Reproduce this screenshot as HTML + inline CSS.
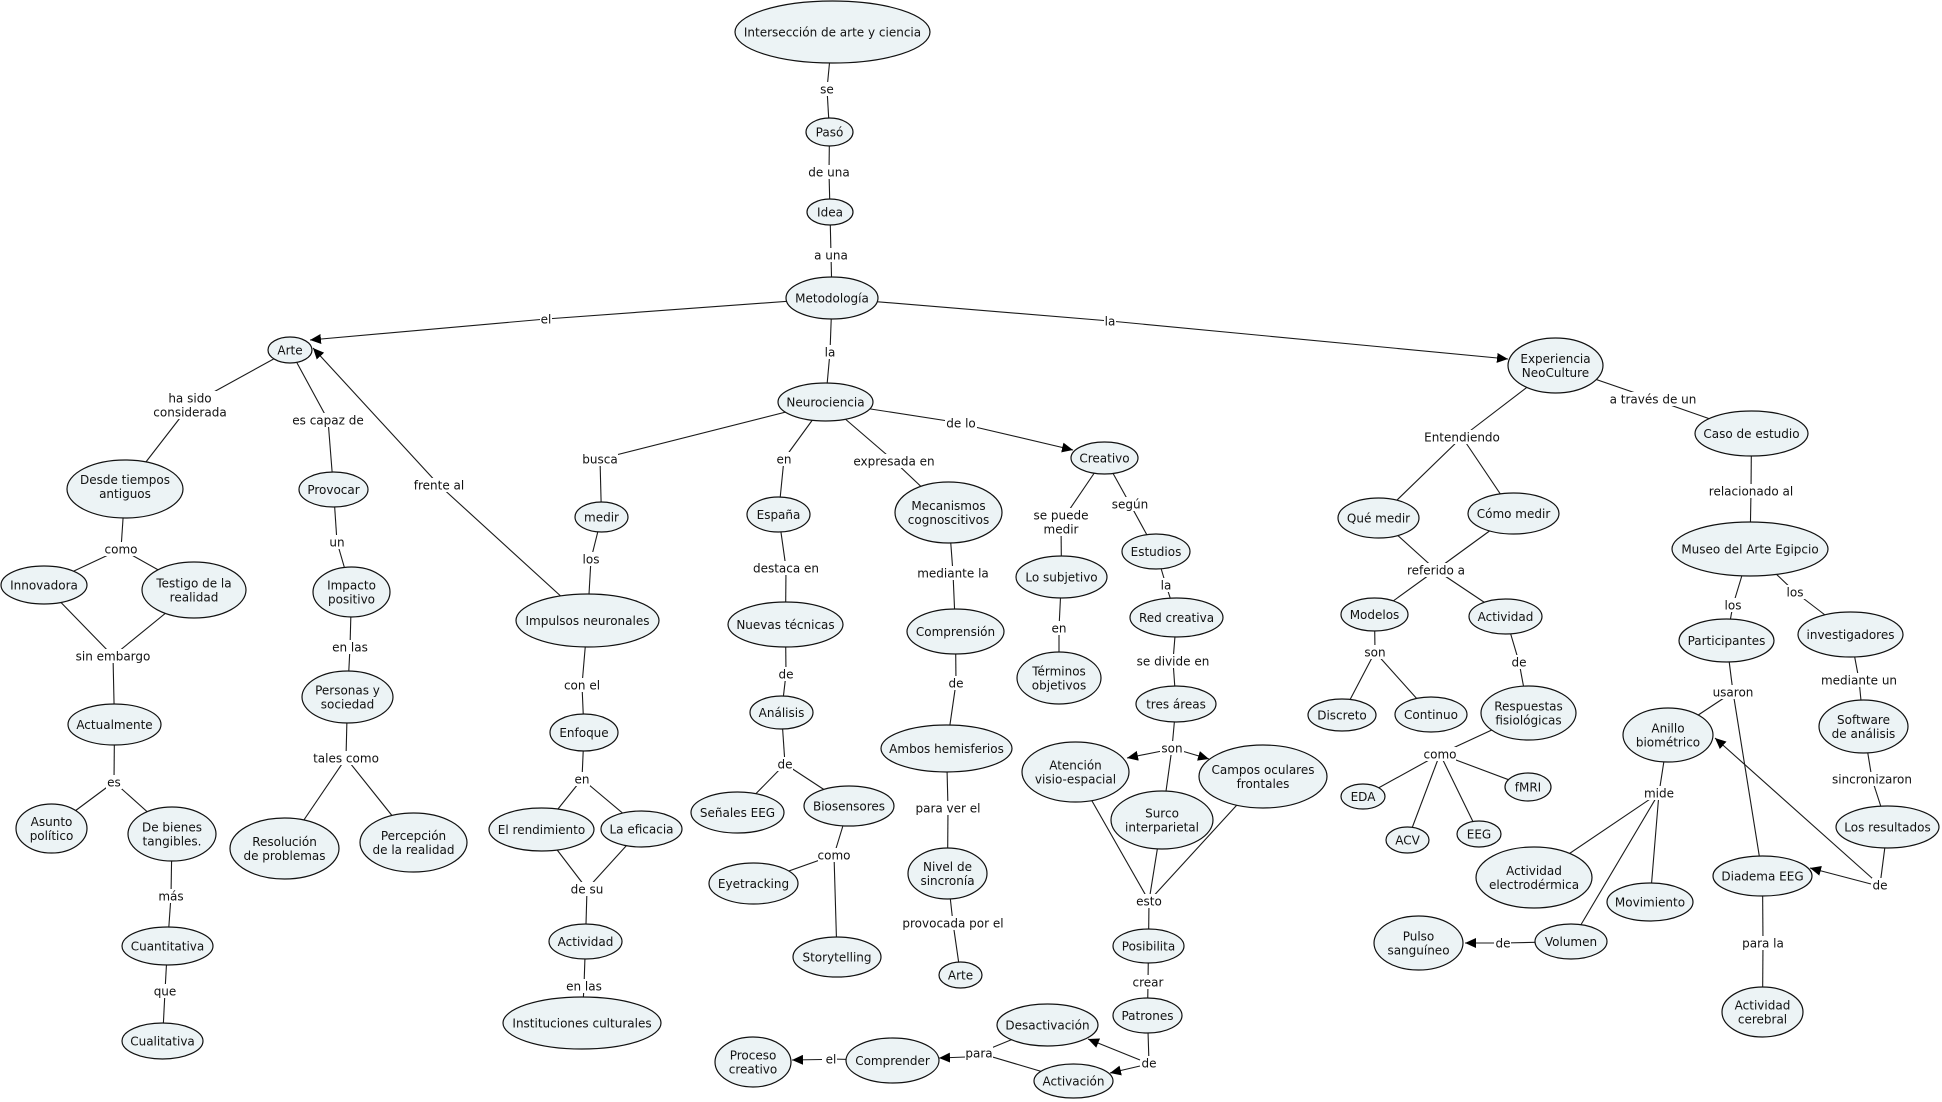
<!DOCTYPE html>
<html>
<head>
<meta charset="utf-8">
<style>
html,body{margin:0;padding:0;background:#fff;}
svg{display:block;}
text{font-family:"DejaVu Sans","Liberation Sans",sans-serif;font-size:12px;fill:#111;text-anchor:middle;}
.n{fill:#ecf3f5;stroke:#111;stroke-width:1.2;}
.l{stroke:#1a1a1a;stroke-width:1.1;fill:none;}
.b{fill:#fff;}
</style>
</head>
<body>
<svg width="1942" height="1102" viewBox="0 0 1942 1102" xmlns="http://www.w3.org/2000/svg">
<defs>
<marker id="a" markerWidth="12" markerHeight="10" refX="11" refY="5" orient="auto" markerUnits="userSpaceOnUse"><path d="M0,0 L11,5 L0,10 z" fill="#000"/></marker>
</defs>
<rect width="1942" height="1102" fill="#fff"/>

<!-- LINES -->
<g class="l">
<line x1="832.5" y1="31.5" x2="827" y2="89"/><line x1="827" y1="89" x2="829.5" y2="132"/>
<line x1="829.5" y1="132" x2="829" y2="172"/><line x1="829" y1="172" x2="830" y2="212"/>
<line x1="830" y1="212" x2="831" y2="255"/><line x1="831" y1="255" x2="832" y2="298"/>
<line x1="832" y1="298" x2="546" y2="319"/><line x1="546" y1="319" x2="310" y2="340" marker-end="url(#a)"/>
<line x1="832" y1="298" x2="830" y2="352"/><line x1="830" y1="352" x2="825.5" y2="402"/>
<line x1="832" y1="298" x2="1110" y2="321"/><line x1="1110" y1="321" x2="1508" y2="359" marker-end="url(#a)"/>
<line x1="290" y1="350" x2="190" y2="405"/><line x1="190" y1="405" x2="125" y2="489"/>
<line x1="290" y1="350" x2="328" y2="420"/><line x1="328" y1="420" x2="333.5" y2="489.5"/>
<line x1="587.5" y1="620.5" x2="439" y2="485"/><line x1="439" y1="485" x2="313" y2="348" marker-end="url(#a)"/>
<line x1="125" y1="489" x2="121" y2="549"/><line x1="121" y1="549" x2="44" y2="585"/><line x1="121" y1="549" x2="194" y2="590"/>
<line x1="44" y1="585" x2="113" y2="656"/><line x1="194" y1="590" x2="113" y2="656"/><line x1="113" y1="656" x2="114.5" y2="724.5"/>
<line x1="114.5" y1="724.5" x2="114" y2="782"/><line x1="114" y1="782" x2="51.5" y2="828.5"/><line x1="114" y1="782" x2="172" y2="834"/>
<line x1="172" y1="834" x2="171" y2="896"/><line x1="171" y1="896" x2="167.5" y2="946"/>
<line x1="167.5" y1="946" x2="165" y2="991"/><line x1="165" y1="991" x2="162.5" y2="1041"/>
<line x1="333.5" y1="489.5" x2="337" y2="542"/><line x1="337" y1="542" x2="351.5" y2="592"/>
<line x1="351.5" y1="592" x2="350" y2="647"/><line x1="350" y1="647" x2="347.5" y2="697"/>
<line x1="347.5" y1="697" x2="346" y2="758"/><line x1="346" y1="758" x2="284.5" y2="848.5"/><line x1="346" y1="758" x2="413.5" y2="842.5"/>
<line x1="825.5" y1="402" x2="600" y2="459"/><line x1="600" y1="459" x2="601.5" y2="517"/>
<line x1="601.5" y1="517" x2="591" y2="559"/><line x1="591" y1="559" x2="587.5" y2="620.5"/>
<line x1="587.5" y1="620.5" x2="582" y2="685"/><line x1="582" y1="685" x2="584" y2="732.5"/>
<line x1="584" y1="732.5" x2="582" y2="779"/><line x1="582" y1="779" x2="541.5" y2="829.5"/><line x1="582" y1="779" x2="641.5" y2="829"/>
<line x1="541.5" y1="829.5" x2="587" y2="889"/><line x1="641.5" y1="829" x2="587" y2="889"/><line x1="587" y1="889" x2="585.5" y2="941.5"/>
<line x1="585.5" y1="941.5" x2="584" y2="986"/><line x1="584" y1="986" x2="582" y2="1023"/>
<line x1="825.5" y1="402" x2="784" y2="459"/><line x1="784" y1="459" x2="778.5" y2="514.5"/>
<line x1="778.5" y1="514.5" x2="786" y2="568"/><line x1="786" y1="568" x2="785.5" y2="624.5"/>
<line x1="785.5" y1="624.5" x2="786" y2="674"/><line x1="786" y1="674" x2="781.5" y2="712.5"/>
<line x1="781.5" y1="712.5" x2="785" y2="764"/><line x1="785" y1="764" x2="737.5" y2="812.5"/><line x1="785" y1="764" x2="849" y2="806"/>
<line x1="849" y1="806" x2="834" y2="855"/><line x1="834" y1="855" x2="753.5" y2="883.5"/><line x1="834" y1="855" x2="837" y2="957"/>
<line x1="825.5" y1="402" x2="894" y2="461"/><line x1="894" y1="461" x2="948.5" y2="512.5"/>
<line x1="948.5" y1="512.5" x2="953" y2="573"/><line x1="953" y1="573" x2="955.5" y2="631.5"/>
<line x1="955.5" y1="631.5" x2="956" y2="683"/><line x1="956" y1="683" x2="946.5" y2="748.5"/>
<line x1="946.5" y1="748.5" x2="948" y2="808"/><line x1="948" y1="808" x2="947.5" y2="873.5"/>
<line x1="947.5" y1="873.5" x2="953" y2="923"/><line x1="953" y1="923" x2="960.5" y2="975"/>
<line x1="825.5" y1="402" x2="961" y2="423"/><line x1="975" y1="427" x2="1073" y2="450" marker-end="url(#a)"/>
<line x1="1104.5" y1="458" x2="1061" y2="522"/><line x1="1061" y1="522" x2="1061.5" y2="577"/>
<line x1="1061.5" y1="577" x2="1059" y2="628"/><line x1="1059" y1="628" x2="1059" y2="678"/>
<line x1="1104.5" y1="458" x2="1130" y2="504"/><line x1="1130" y1="504" x2="1156" y2="551.5"/>
<line x1="1156" y1="551.5" x2="1166" y2="585"/><line x1="1166" y1="585" x2="1176.5" y2="617.5"/>
<line x1="1176.5" y1="617.5" x2="1173" y2="661"/><line x1="1173" y1="661" x2="1176" y2="704"/>
<line x1="1176" y1="704" x2="1172" y2="748"/>
<line x1="1162" y1="751" x2="1127" y2="758" marker-end="url(#a)"/>
<line x1="1182" y1="751" x2="1209" y2="759" marker-end="url(#a)"/>
<line x1="1172" y1="748" x2="1162" y2="820"/>
<line x1="1075.5" y1="772" x2="1149" y2="901"/><line x1="1162" y1="820" x2="1149" y2="901"/><line x1="1263" y1="776.5" x2="1149" y2="901"/>
<line x1="1149" y1="901" x2="1148.5" y2="946"/>
<line x1="1148.5" y1="946" x2="1148" y2="982"/><line x1="1148" y1="982" x2="1147.5" y2="1015.5"/>
<line x1="1147.5" y1="1015.5" x2="1149" y2="1063"/>
<line x1="1140" y1="1060" x2="1088" y2="1039" marker-end="url(#a)"/>
<line x1="1140" y1="1066" x2="1110" y2="1073" marker-end="url(#a)"/>
<line x1="1047.5" y1="1025" x2="979" y2="1053"/><line x1="1073.5" y1="1081" x2="979" y2="1053"/>
<line x1="966" y1="1057" x2="939" y2="1058" marker-end="url(#a)"/>
<line x1="892.5" y1="1060.5" x2="831" y2="1059"/><line x1="822" y1="1059.5" x2="792" y2="1060" marker-end="url(#a)"/>
<line x1="1555.5" y1="365.5" x2="1462" y2="437"/><line x1="1462" y1="437" x2="1378.5" y2="518"/><line x1="1462" y1="437" x2="1513.5" y2="513.5"/>
<line x1="1378.5" y1="518" x2="1436" y2="570"/><line x1="1513.5" y1="513.5" x2="1436" y2="570"/>
<line x1="1436" y1="570" x2="1374.5" y2="614.5"/><line x1="1436" y1="570" x2="1505.5" y2="616.5"/>
<line x1="1374.5" y1="614.5" x2="1375" y2="652"/><line x1="1375" y1="652" x2="1342" y2="715"/><line x1="1375" y1="652" x2="1431" y2="714.5"/>
<line x1="1505.5" y1="616.5" x2="1519" y2="662"/><line x1="1519" y1="662" x2="1528.5" y2="713"/>
<line x1="1528.5" y1="713" x2="1440" y2="754"/>
<line x1="1440" y1="754" x2="1363" y2="796.5"/><line x1="1440" y1="754" x2="1407.5" y2="840"/><line x1="1440" y1="754" x2="1479" y2="834"/><line x1="1440" y1="754" x2="1528" y2="787"/>
<line x1="1555.5" y1="365.5" x2="1653" y2="399"/><line x1="1653" y1="399" x2="1751.5" y2="433.5"/>
<line x1="1751.5" y1="433.5" x2="1751" y2="491"/><line x1="1751" y1="491" x2="1750" y2="549"/>
<line x1="1750" y1="549" x2="1733" y2="605"/><line x1="1733" y1="605" x2="1726.5" y2="640.5"/>
<line x1="1750" y1="549" x2="1795" y2="592"/><line x1="1795" y1="592" x2="1850.5" y2="634.5"/>
<line x1="1850.5" y1="634.5" x2="1859" y2="680"/><line x1="1859" y1="680" x2="1863.5" y2="726.5"/>
<line x1="1726.5" y1="640.5" x2="1733" y2="692"/><line x1="1733" y1="692" x2="1668" y2="735"/><line x1="1733" y1="692" x2="1762.5" y2="876"/>
<line x1="1863.5" y1="726.5" x2="1872" y2="779"/><line x1="1872" y1="779" x2="1887.5" y2="827"/>
<line x1="1887.5" y1="827" x2="1880" y2="885"/>
<line x1="1873" y1="879" x2="1715" y2="738" marker-end="url(#a)"/>
<line x1="1871" y1="884" x2="1810" y2="868" marker-end="url(#a)"/>
<line x1="1668" y1="735" x2="1659" y2="793"/>
<line x1="1659" y1="793" x2="1534" y2="877.5"/><line x1="1659" y1="793" x2="1650" y2="902"/><line x1="1659" y1="793" x2="1571" y2="941.5"/>
<line x1="1571" y1="941.5" x2="1503" y2="943"/><line x1="1494" y1="943" x2="1465" y2="943" marker-end="url(#a)"/>
<line x1="1762.5" y1="876" x2="1763" y2="943"/><line x1="1763" y1="943" x2="1762.5" y2="1012"/>
</g>

<!-- LINK LABELS -->
<g>
<rect class="b" x="818" y="82" width="18" height="14"/><text x="827" y="93.5">se</text>
<rect class="b" x="808" y="165" width="42" height="14"/><text x="829" y="176.5">de una</text>
<rect class="b" x="813" y="248" width="36" height="14"/><text x="831" y="259.5">a una</text>
<rect class="b" x="540" y="312" width="12" height="14"/><text x="546" y="323.5">el</text>
<rect class="b" x="824" y="345" width="12" height="14"/><text x="830" y="356.5">la</text>
<rect class="b" x="1104" y="314" width="12" height="14"/><text x="1110" y="325.5">la</text>
<rect class="b" x="155" y="391" width="70" height="28"/><text x="190" y="402.5">ha sido</text><text x="190" y="416.5">considerada</text>
<rect class="b" x="292" y="413" width="72" height="14"/><text x="328" y="424.5">es capaz de</text>
<rect class="b" x="413" y="478" width="52" height="14"/><text x="439" y="489.5">frente al</text>
<rect class="b" x="104" y="542" width="34" height="14"/><text x="121" y="553.5">como</text>
<rect class="b" x="77" y="649" width="72" height="14"/><text x="113" y="660.5">sin embargo</text>
<rect class="b" x="106" y="775" width="16" height="14"/><text x="114" y="786.5">es</text>
<rect class="b" x="159" y="889" width="24" height="14"/><text x="171" y="900.5">más</text>
<rect class="b" x="153" y="984" width="24" height="14"/><text x="165" y="995.5">que</text>
<rect class="b" x="329" y="535" width="16" height="14"/><text x="337" y="546.5">un</text>
<rect class="b" x="330" y="640" width="40" height="14"/><text x="350" y="651.5">en las</text>
<rect class="b" x="313" y="751" width="66" height="14"/><text x="346" y="762.5">tales como</text>
<rect class="b" x="582" y="452" width="36" height="14"/><text x="600" y="463.5">busca</text>
<rect class="b" x="581" y="552" width="20" height="14"/><text x="591" y="563.5">los</text>
<rect class="b" x="562" y="678" width="40" height="14"/><text x="582" y="689.5">con el</text>
<rect class="b" x="574" y="772" width="16" height="14"/><text x="582" y="783.5">en</text>
<rect class="b" x="570" y="882" width="34" height="14"/><text x="587" y="893.5">de su</text>
<rect class="b" x="564" y="979" width="40" height="14"/><text x="584" y="990.5">en las</text>
<rect class="b" x="776" y="452" width="16" height="14"/><text x="784" y="463.5">en</text>
<rect class="b" x="754" y="561" width="64" height="14"/><text x="786" y="572.5">destaca en</text>
<rect class="b" x="778" y="667" width="16" height="14"/><text x="786" y="678.5">de</text>
<rect class="b" x="777" y="757" width="16" height="14"/><text x="785" y="768.5">de</text>
<rect class="b" x="818" y="848" width="32" height="14"/><text x="834" y="859.5">como</text>
<rect class="b" x="854" y="454" width="80" height="14"/><text x="894" y="465.5">expresada en</text>
<rect class="b" x="918" y="566" width="70" height="14"/><text x="953" y="577.5">mediante la</text>
<rect class="b" x="948" y="676" width="16" height="14"/><text x="956" y="687.5">de</text>
<rect class="b" x="915" y="801" width="66" height="14"/><text x="948" y="812.5">para ver el</text>
<rect class="b" x="903" y="916" width="100" height="14"/><text x="953" y="927.5">provocada por el</text>
<rect class="b" x="945" y="416" width="32" height="14"/><text x="961" y="427.5">de lo</text>
<rect class="b" x="1029" y="508" width="64" height="28"/><text x="1061" y="519.5">se puede</text><text x="1061" y="533.5">medir</text>
<rect class="b" x="1051" y="621" width="16" height="14"/><text x="1059" y="632.5">en</text>
<rect class="b" x="1112" y="497" width="36" height="14"/><text x="1130" y="508.5">según</text>
<rect class="b" x="1160" y="578" width="12" height="14"/><text x="1166" y="589.5">la</text>
<rect class="b" x="1136" y="654" width="74" height="14"/><text x="1173" y="665.5">se divide en</text>
<rect class="b" x="1160" y="741" width="24" height="14"/><text x="1172" y="752.5">son</text>
<rect class="b" x="1135" y="894" width="28" height="14"/><text x="1149" y="905.5">esto</text>
<rect class="b" x="1132" y="975" width="32" height="14"/><text x="1148" y="986.5">crear</text>
<rect class="b" x="1141" y="1056" width="16" height="14"/><text x="1149" y="1067.5">de</text>
<rect class="b" x="965" y="1046" width="28" height="14"/><text x="979" y="1057.5">para</text>
<rect class="b" x="825" y="1052" width="12" height="14"/><text x="831" y="1063.5">el</text>
<rect class="b" x="1425" y="430" width="74" height="14"/><text x="1462" y="441.5">Entendiendo</text>
<rect class="b" x="1406" y="563" width="60" height="14"/><text x="1436" y="574.5">referido a</text>
<rect class="b" x="1363" y="645" width="24" height="14"/><text x="1375" y="656.5">son</text>
<rect class="b" x="1511" y="655" width="16" height="14"/><text x="1519" y="666.5">de</text>
<rect class="b" x="1424" y="747" width="32" height="14"/><text x="1440" y="758.5">como</text>
<rect class="b" x="1609" y="392" width="88" height="14"/><text x="1653" y="403.5">a través de un</text>
<rect class="b" x="1708" y="484" width="86" height="14"/><text x="1751" y="495.5">relacionado al</text>
<rect class="b" x="1723" y="598" width="20" height="14"/><text x="1733" y="609.5">los</text>
<rect class="b" x="1785" y="585" width="20" height="14"/><text x="1795" y="596.5">los</text>
<rect class="b" x="1823" y="673" width="72" height="14"/><text x="1859" y="684.5">mediante un</text>
<rect class="b" x="1712" y="685" width="42" height="14"/><text x="1733" y="696.5">usaron</text>
<rect class="b" x="1832" y="772" width="80" height="14"/><text x="1872" y="783.5">sincronizaron</text>
<rect class="b" x="1872" y="878" width="16" height="14"/><text x="1880" y="889.5">de</text>
<rect class="b" x="1644" y="786" width="30" height="14"/><text x="1659" y="797.5">mide</text>
<rect class="b" x="1742" y="936" width="42" height="14"/><text x="1763" y="947.5">para la</text>
<rect class="b" x="1495" y="936" width="16" height="14"/><text x="1503" y="947.5">de</text>
</g>

<!-- NODES -->
<g>
<ellipse class="n" cx="832.5" cy="32" rx="97.5" ry="31"/><text x="832.5" y="36.5">Intersección de arte y ciencia</text>
<ellipse class="n" cx="829.5" cy="132" rx="23.5" ry="14"/><text x="829.5" y="136.5">Pasó</text>
<ellipse class="n" cx="830" cy="212" rx="23" ry="13"/><text x="830" y="216.5">Idea</text>
<ellipse class="n" cx="832" cy="298" rx="46" ry="21"/><text x="832" y="302.5">Metodología</text>
<ellipse class="n" cx="290" cy="350" rx="22" ry="13"/><text x="290" y="354.5">Arte</text>
<ellipse class="n" cx="1555.5" cy="365.5" rx="47.5" ry="27.5"/><text x="1555.5" y="363">Experiencia</text><text x="1555.5" y="377">NeoCulture</text>
<ellipse class="n" cx="825.5" cy="402" rx="47.5" ry="19"/><text x="825.5" y="406.5">Neurociencia</text>
<ellipse class="n" cx="125" cy="489" rx="58" ry="29"/><text x="125" y="484">Desde tiempos</text><text x="125" y="498">antiguos</text>
<ellipse class="n" cx="44" cy="585" rx="43" ry="19"/><text x="44" y="589.5">Innovadora</text>
<ellipse class="n" cx="194" cy="590" rx="52" ry="28"/><text x="194" y="587.5">Testigo de la</text><text x="194" y="601.5">realidad</text>
<ellipse class="n" cx="114.5" cy="724.5" rx="46.5" ry="20.5"/><text x="114.5" y="729">Actualmente</text>
<ellipse class="n" cx="51.5" cy="828.5" rx="35.5" ry="24.5"/><text x="51.5" y="826">Asunto</text><text x="51.5" y="840">político</text>
<ellipse class="n" cx="172" cy="834" rx="44" ry="27"/><text x="172" y="831.5">De bienes</text><text x="172" y="845.5">tangibles.</text>
<ellipse class="n" cx="167.5" cy="946" rx="45.5" ry="19"/><text x="167.5" y="950.5">Cuantitativa</text>
<ellipse class="n" cx="162.5" cy="1041" rx="40.5" ry="18"/><text x="162.5" y="1045.5">Cualitativa</text>
<ellipse class="n" cx="333.5" cy="489.5" rx="34.5" ry="17.5"/><text x="333.5" y="494">Provocar</text>
<ellipse class="n" cx="351.5" cy="592" rx="38.5" ry="25"/><text x="351.5" y="589.5">Impacto</text><text x="351.5" y="603.5">positivo</text>
<ellipse class="n" cx="347.5" cy="697" rx="45.5" ry="26"/><text x="347.5" y="694.5">Personas y</text><text x="347.5" y="708.5">sociedad</text>
<ellipse class="n" cx="284.5" cy="848.5" rx="54.5" ry="30.5"/><text x="284.5" y="846">Resolución</text><text x="284.5" y="860">de problemas</text>
<ellipse class="n" cx="413.5" cy="842.5" rx="53.5" ry="29.5"/><text x="413.5" y="840">Percepción</text><text x="413.5" y="854">de la realidad</text>
<ellipse class="n" cx="601.5" cy="517" rx="26.5" ry="15"/><text x="601.5" y="521.5">medir</text>
<ellipse class="n" cx="587.5" cy="620.5" rx="71.5" ry="26.5"/><text x="587.5" y="625">Impulsos neuronales</text>
<ellipse class="n" cx="584" cy="732.5" rx="34" ry="18.5"/><text x="584" y="737">Enfoque</text>
<ellipse class="n" cx="541.5" cy="829.5" rx="52.5" ry="21.5"/><text x="541.5" y="834">El rendimiento</text>
<ellipse class="n" cx="641.5" cy="829" rx="40.5" ry="18"/><text x="641.5" y="833.5">La eficacia</text>
<ellipse class="n" cx="585.5" cy="941.5" rx="36.5" ry="17.5"/><text x="585.5" y="946">Actividad</text>
<ellipse class="n" cx="582" cy="1023" rx="79" ry="26"/><text x="582" y="1027.5">Instituciones culturales</text>
<ellipse class="n" cx="778.5" cy="514.5" rx="31.5" ry="17.5"/><text x="778.5" y="519">España</text>
<ellipse class="n" cx="785.5" cy="624.5" rx="57.5" ry="22.5"/><text x="785.5" y="629">Nuevas técnicas</text>
<ellipse class="n" cx="781.5" cy="712.5" rx="31.5" ry="16.5"/><text x="781.5" y="717">Análisis</text>
<ellipse class="n" cx="737.5" cy="812.5" rx="46.5" ry="20.5"/><text x="737.5" y="817">Señales EEG</text>
<ellipse class="n" cx="849" cy="806" rx="45" ry="20"/><text x="849" y="810.5">Biosensores</text>
<ellipse class="n" cx="753.5" cy="883.5" rx="44.5" ry="20.5"/><text x="753.5" y="888">Eyetracking</text>
<ellipse class="n" cx="837" cy="957" rx="44" ry="20"/><text x="837" y="961.5">Storytelling</text>
<ellipse class="n" cx="948.5" cy="512.5" rx="53.5" ry="30.5"/><text x="948.5" y="510">Mecanismos</text><text x="948.5" y="524">cognoscitivos</text>
<ellipse class="n" cx="955.5" cy="631.5" rx="48.5" ry="22.5"/><text x="955.5" y="636">Comprensión</text>
<ellipse class="n" cx="946.5" cy="748.5" rx="65.5" ry="23.5"/><text x="946.5" y="753">Ambos hemisferios</text>
<ellipse class="n" cx="947.5" cy="873.5" rx="39.5" ry="25.5"/><text x="947.5" y="871">Nivel de</text><text x="947.5" y="885">sincronía</text>
<ellipse class="n" cx="960.5" cy="975" rx="21.5" ry="13"/><text x="960.5" y="979.5">Arte</text>
<ellipse class="n" cx="1104.5" cy="458" rx="33.5" ry="16"/><text x="1104.5" y="462.5">Creativo</text>
<ellipse class="n" cx="1061.5" cy="577" rx="45.5" ry="21"/><text x="1061.5" y="581.5">Lo subjetivo</text>
<ellipse class="n" cx="1059" cy="678" rx="42" ry="26"/><text x="1059" y="675.5">Términos</text><text x="1059" y="689.5">objetivos</text>
<ellipse class="n" cx="1156" cy="551.5" rx="34" ry="17.5"/><text x="1156" y="556">Estudios</text>
<ellipse class="n" cx="1176.5" cy="617.5" rx="46.5" ry="19.5"/><text x="1176.5" y="622">Red creativa</text>
<ellipse class="n" cx="1176" cy="704" rx="40" ry="18"/><text x="1176" y="708.5">tres áreas</text>
<ellipse class="n" cx="1075.5" cy="772" rx="53.5" ry="30"/><text x="1075.5" y="769.5">Atención</text><text x="1075.5" y="783.5">visio-espacial</text>
<ellipse class="n" cx="1162" cy="820" rx="51" ry="29"/><text x="1162" y="817.5">Surco</text><text x="1162" y="831.5">interparietal</text>
<ellipse class="n" cx="1263" cy="776.5" rx="64" ry="31.5"/><text x="1263" y="774">Campos oculares</text><text x="1263" y="788">frontales</text>
<ellipse class="n" cx="1148.5" cy="946" rx="35.5" ry="17"/><text x="1148.5" y="950.5">Posibilita</text>
<ellipse class="n" cx="1147.5" cy="1015.5" rx="34.5" ry="17.5"/><text x="1147.5" y="1020">Patrones</text>
<ellipse class="n" cx="1047.5" cy="1025" rx="50.5" ry="21"/><text x="1047.5" y="1029.5">Desactivación</text>
<ellipse class="n" cx="1073.5" cy="1081" rx="39.5" ry="17"/><text x="1073.5" y="1085.5">Activación</text>
<ellipse class="n" cx="892.5" cy="1060.5" rx="46.5" ry="22.5"/><text x="892.5" y="1065">Comprender</text>
<ellipse class="n" cx="753" cy="1062" rx="38" ry="25"/><text x="753" y="1059.5">Proceso</text><text x="753" y="1073.5">creativo</text>
<ellipse class="n" cx="1378.5" cy="518" rx="40.5" ry="20"/><text x="1378.5" y="522.5">Qué medir</text>
<ellipse class="n" cx="1513.5" cy="513.5" rx="45.5" ry="20.5"/><text x="1513.5" y="518">Cómo medir</text>
<ellipse class="n" cx="1374.5" cy="614.5" rx="33.5" ry="16.5"/><text x="1374.5" y="619">Modelos</text>
<ellipse class="n" cx="1342" cy="715" rx="34" ry="16"/><text x="1342" y="719.5">Discreto</text>
<ellipse class="n" cx="1431" cy="714.5" rx="36" ry="17.5"/><text x="1431" y="719">Continuo</text>
<ellipse class="n" cx="1505.5" cy="616.5" rx="36.5" ry="17.5"/><text x="1505.5" y="621">Actividad</text>
<ellipse class="n" cx="1528.5" cy="713" rx="47.5" ry="27"/><text x="1528.5" y="710.5">Respuestas</text><text x="1528.5" y="724.5">fisiológicas</text>
<ellipse class="n" cx="1363" cy="796.5" rx="22" ry="12.5"/><text x="1363" y="801">EDA</text>
<ellipse class="n" cx="1407.5" cy="840" rx="21.5" ry="13"/><text x="1407.5" y="844.5">ACV</text>
<ellipse class="n" cx="1479" cy="834" rx="22" ry="13"/><text x="1479" y="838.5">EEG</text>
<ellipse class="n" cx="1528" cy="787" rx="23" ry="14"/><text x="1528" y="791.5">fMRI</text>
<ellipse class="n" cx="1751.5" cy="433.5" rx="56.5" ry="22.5"/><text x="1751.5" y="438">Caso de estudio</text>
<ellipse class="n" cx="1750" cy="549" rx="78" ry="27"/><text x="1750" y="553.5">Museo del Arte Egipcio</text>
<ellipse class="n" cx="1726.5" cy="640.5" rx="47.5" ry="21.5"/><text x="1726.5" y="645">Participantes</text>
<ellipse class="n" cx="1850.5" cy="634.5" rx="52.5" ry="22.5"/><text x="1850.5" y="639">investigadores</text>
<ellipse class="n" cx="1863.5" cy="726.5" rx="44.5" ry="26.5"/><text x="1863.5" y="724">Software</text><text x="1863.5" y="738">de análisis</text>
<ellipse class="n" cx="1887.5" cy="827" rx="51.5" ry="21"/><text x="1887.5" y="831.5">Los resultados</text>
<ellipse class="n" cx="1668" cy="735" rx="45" ry="27"/><text x="1668" y="732.5">Anillo</text><text x="1668" y="746.5">biométrico</text>
<ellipse class="n" cx="1762.5" cy="876" rx="49.5" ry="20"/><text x="1762.5" y="880.5">Diadema EEG</text>
<ellipse class="n" cx="1762.5" cy="1012" rx="40.5" ry="25"/><text x="1762.5" y="1009.5">Actividad</text><text x="1762.5" y="1023.5">cerebral</text>
<ellipse class="n" cx="1534" cy="877.5" rx="58" ry="30.5"/><text x="1534" y="875">Actividad</text><text x="1534" y="889">electrodérmica</text>
<ellipse class="n" cx="1650" cy="902" rx="43" ry="19"/><text x="1650" y="906.5">Movimiento</text>
<ellipse class="n" cx="1571" cy="941.5" rx="36" ry="17.5"/><text x="1571" y="946">Volumen</text>
<ellipse class="n" cx="1418.5" cy="943" rx="44.5" ry="27"/><text x="1418.5" y="940.5">Pulso</text><text x="1418.5" y="954.5">sanguíneo</text>
</g>
</svg>
</body>
</html>
